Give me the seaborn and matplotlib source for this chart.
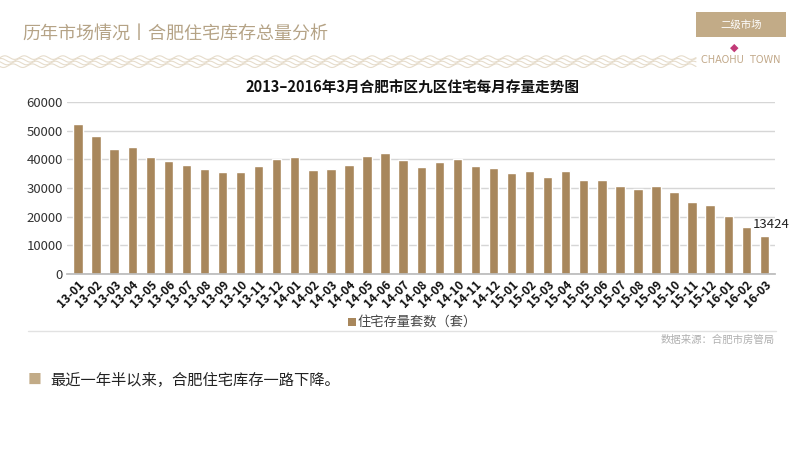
import numpy as np
import pandas as pd
import seaborn as sns
import matplotlib.pyplot as plt
from matplotlib.patches import Rectangle

MONTHS = [
    "13-01", "13-02", "13-03", "13-04", "13-05", "13-06", "13-07", "13-08", "13-09", "13-10",
    "13-11", "13-12", "14-01", "14-02", "14-03", "14-04", "14-05", "14-06", "14-07", "14-08",
    "14-09", "14-10", "14-11", "14-12", "15-01", "15-02", "15-03", "15-04", "15-05", "15-06",
    "15-07", "15-08", "15-09", "15-10", "15-11", "15-12", "16-01", "16-02", "16-03",
]
STOCK = [
    52400, 48100, 43800, 44300, 40900, 39400, 38100, 36700, 35600, 35600,
    37600, 40300, 40700, 36400, 36700, 38000, 41200, 42100, 39900, 37400,
    39000, 40100, 37700, 37100, 35200, 36000, 33700, 35900, 32800, 32800,
    30700, 29800, 30700, 28500, 25300, 24200, 20300, 16400, 13424,
]
Y_TICKS = [0, 10000, 20000, 30000, 40000, 50000, 60000]

BAR_COLOR = "#a8875c"
BEIGE = "#c2ab87"

sns.set_theme(style="white")
plt.rcParams["font.family"] = ["Noto Sans CJK SC", "DejaVu Sans"]

df = pd.DataFrame({"month": MONTHS, "stock": STOCK})

fig = plt.figure(figsize=(8, 4.5), dpi=100)
ax = fig.add_axes([0.084, 0.391, 0.885, 0.382])

sns.barplot(data=df, x="month", y="stock", color=BAR_COLOR, width=0.52,
            saturation=1, ax=ax)

ax.set_ylim(0, 60000)
ax.set_yticks(Y_TICKS)
ax.set_yticklabels([str(v) for v in Y_TICKS], fontsize=9.5, color="#333333")
ax.yaxis.grid(True, color="#d6d6d6", linewidth=1)
ax.set_axisbelow(True)
ax.set_xlim(-0.6, len(MONTHS) - 0.4)
ax.set_xlabel("")
ax.set_ylabel("")
ax.tick_params(axis="both", length=0, pad=3)
plt.setp(ax.get_xticklabels(), rotation=45, ha="right", rotation_mode="anchor",
         fontsize=8.5, fontweight="bold", color="#111111")
for side in ["top", "right", "left"]:
    ax.spines[side].set_visible(False)
ax.spines["bottom"].set_color("#bbbbbb")

# value label on the last bar
last = len(STOCK) - 1
ax.text(last - 0.65, STOCK[last] + 1500, str(STOCK[last]), fontsize=9.5,
        color="#222222", ha="left", va="bottom")

# chart title
fig.text(0.516, 0.805, "2013–2016年3月合肥市区九区住宅每月存量走势图", ha="center",
         va="center", fontsize=10.5, fontweight="bold", color="#111111")

# legend
fig.add_artist(Rectangle((0.435, 0.276), 0.0095, 0.017, transform=fig.transFigure,
                         color=BAR_COLOR, lw=0))
fig.text(0.447, 0.284, "住宅存量套数（套）", ha="left", va="center",
         fontsize=9.5, color="#444444")

# separator and source
fig.add_artist(plt.Line2D([0.035, 0.97], [0.264, 0.264], color="#e2e2e2", lw=1))
fig.text(0.968, 0.246, "数据来源：合肥市房管局", ha="right", va="center",
         fontsize=7.5, color="#b0b0b0")

# page header
fig.text(0.028, 0.925, "历年市场情况丨合肥住宅库存总量分析", ha="left", va="center",
         fontsize=13, color="#b5a386")
wx = np.linspace(0, 0.87, 600)
for k in range(4):
    yy = 0.872 - k * 0.006 + 0.004 * np.sin(wx * 260 + k * 1.2)
    fig.add_artist(plt.Line2D(wx, yy, color="#e6dccb", lw=0.8))

fig.add_artist(Rectangle((0.87, 0.918), 0.112, 0.056, transform=fig.transFigure,
                         color=BEIGE, lw=0))
fig.text(0.926, 0.946, "二级市场", ha="center", va="center", fontsize=7.5,
         color="white")
fig.text(0.926, 0.867, "CHAOHU  TOWN", ha="center", va="center", fontsize=7,
         color="#c2a98a", fontfamily="DejaVu Sans")
fig.text(0.918, 0.895, "◆", ha="center", va="center", fontsize=8, color="#c23a78",
         fontfamily="DejaVu Sans")

# bullet note
fig.text(0.043, 0.155, "■", ha="center", va="center", fontsize=10, color=BEIGE)
fig.text(0.063, 0.155, "最近一年半以来，合肥住宅库存一路下降。", ha="left", va="center",
         fontsize=11, color="#222222")

fig.savefig("out.png", dpi=100)
